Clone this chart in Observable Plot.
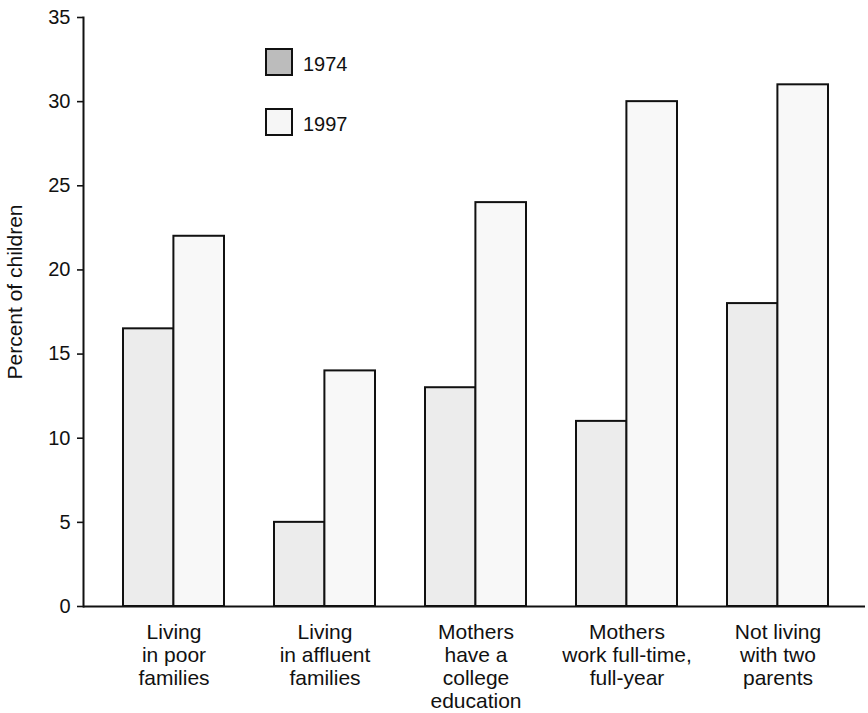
<!DOCTYPE html>
<html>
<head>
<meta charset="utf-8">
<script src="https://cdn.jsdelivr.net/npm/d3@7"></script>
<script src="https://cdn.jsdelivr.net/npm/@observablehq/plot@0.6"></script>
<style>
  body { margin: 0; background: #fff; font-family: "Liberation Sans", Arial, Helvetica, sans-serif; }
  #wrap { position: relative; width: 868px; height: 713px; }
  #legend { position: absolute; left: 265px; top: 48px; }
  .item { display: flex; align-items: center; height: 28px; margin-bottom: 32px; font-size: 20px; color: #111; }
  .item span { position: relative; top: 2px; }
  .sw { width: 28px; height: 28px; box-sizing: border-box; border: 2px solid #111; margin-right: 10px; }
</style>
</head>
<body>
<div id="wrap"><div id="legend"></div></div>
<script>
const categories = ["poor", "affluent", "college", "fulltime", "notTwoParents"];
const categoryLabels = [
  "Living\nin poor\nfamilies",
  "Living\nin affluent\nfamilies",
  "Mothers\nhave a\ncollege\neducation",
  "Mothers\nwork full-time,\nfull-year",
  "Not living\nwith two\nparents"
];
const years = ["1974", "1997"];
const values1974 = [16.5, 5, 13, 11, 18];
const values1997 = [22, 14, 24, 30, 31];
const yTicks = [0, 5, 10, 15, 20, 25, 30, 35];
const yLabel = "Percent of children";
const barFill = { "1974": "#ececec", "1997": "#f8f8f8" };
const swatchFill = { "1974": "#bcbcbc", "1997": "#f6f6f6" };

const rows1974 = categories.map((c, i) => ({ category: c, year: years[0], value: values1974[i] }));
const rows1997 = categories.map((c, i) => ({ category: c, year: years[1], value: values1997[i] }));

const chart = Plot.plot({
  width: 868,
  height: 713,
  marginLeft: 83,
  marginRight: 3,
  marginTop: 17,
  marginBottom: 107,
  style: { fontFamily: "Liberation Sans, Arial, Helvetica, sans-serif", fontSize: "20px", background: "transparent", color: "#111" },
  x: { domain: categories, range: [97, 853], paddingInner: 0.333, paddingOuter: 0.1667, axis: null },
  y: { domain: [0, 35], axis: null },
  marks: [
    Plot.barY(rows1974, { x: "category", y: "value", insetRight: 50.4, fill: barFill["1974"], stroke: "#111", strokeWidth: 2 }),
    Plot.barY(rows1997, { x: "category", y: "value", insetLeft: 50.4, fill: barFill["1997"], stroke: "#111", strokeWidth: 2 }),
    Plot.frame({ anchor: "left", stroke: "#111", strokeWidth: 2 }),
    Plot.ruleY([0], { stroke: "#111", strokeWidth: 2 }),
    Plot.axisY({ ticks: yTicks, tickSize: 6, tickPadding: 7, fontSize: 20, label: null, strokeWidth: 1.6 }),
    Plot.text(categories, {
      x: d => d,
      text: (d, i) => categoryLabels[i],
      frameAnchor: "bottom",
      dy: 16,
      lineAnchor: "top",
      lineHeight: 1.1,
      fontSize: 21
    }),
    Plot.text([yLabel], { frameAnchor: "left", textAnchor: "middle", rotate: -90, dx: -68, dy: -20, fontSize: 21 })
  ]
});
document.getElementById("wrap").prepend(chart);

const legend = document.getElementById("legend");
years.forEach(y => {
  const item = document.createElement("div");
  item.className = "item";
  const sw = document.createElement("div");
  sw.className = "sw";
  sw.style.background = swatchFill[y];
  const label = document.createElement("span");
  label.textContent = y;
  item.append(sw, label);
  legend.append(item);
});
</script>
</body>
</html>
